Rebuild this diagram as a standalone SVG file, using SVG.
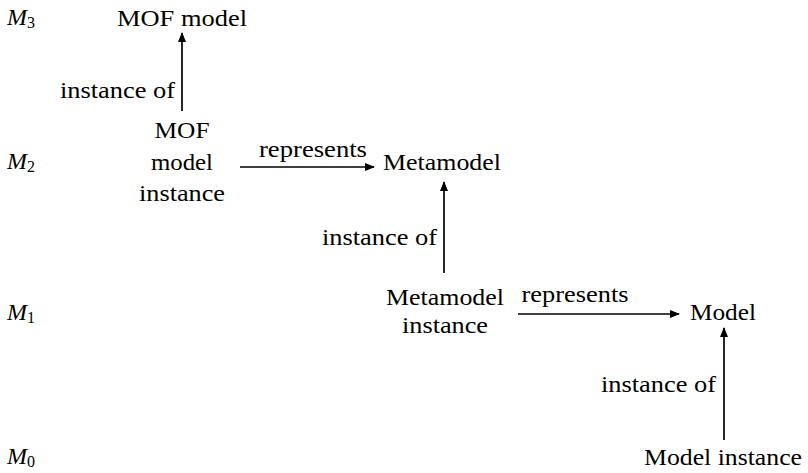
<svg xmlns="http://www.w3.org/2000/svg" width="808" height="473" viewBox="0 0 808 473">
  <style>
    text { font-family: "Liberation Serif", "DejaVu Serif", serif; font-size: 24px; fill: #000; }
    .lvl { font-style: italic; }
    .sub { font-style: normal; font-size: 16px; }
    .c { text-anchor: middle; }
    .r { text-anchor: end; }
    .edge { stroke: #000; stroke-width: 1.7; fill: none; marker-end: url(#arrow); }
  </style>
  <defs>
    <marker id="arrow" viewBox="0 0 10 8" refX="9" refY="4" markerWidth="10" markerHeight="8" markerUnits="userSpaceOnUse" orient="auto">
      <path d="M0,0 L10,4 L0,8 Z" fill="#000"/>
    </marker>
  </defs>
  <rect width="808" height="473" fill="#fff"/>

  <!-- metalevel labels -->
  <g id="levels">
    <text class="lvl" x="7" y="25">M<tspan class="sub" dy="3">3</tspan></text>
    <text class="lvl" x="7" y="169">M<tspan class="sub" dy="3">2</tspan></text>
    <text class="lvl" x="7" y="320">M<tspan class="sub" dy="3">1</tspan></text>
    <text class="lvl" x="7" y="464">M<tspan class="sub" dy="3">0</tspan></text>
  </g>

  <!-- nodes -->
  <g id="mof-model">
    <text class="c" x="182" y="26" textLength="130" lengthAdjust="spacingAndGlyphs">MOF model</text>
  </g>
  <g id="mof-model-instance">
    <text class="c" x="182" y="138" textLength="55" lengthAdjust="spacingAndGlyphs">MOF</text>
    <text class="c" x="182" y="170" textLength="62" lengthAdjust="spacingAndGlyphs">model</text>
    <text class="c" x="182" y="201" textLength="86" lengthAdjust="spacingAndGlyphs">instance</text>
  </g>
  <g id="metamodel">
    <text class="c" x="442" y="170" textLength="118" lengthAdjust="spacingAndGlyphs">Metamodel</text>
  </g>
  <g id="metamodel-instance">
    <text class="c" x="445" y="305" textLength="118" lengthAdjust="spacingAndGlyphs">Metamodel</text>
    <text class="c" x="445" y="333" textLength="86" lengthAdjust="spacingAndGlyphs">instance</text>
  </g>
  <g id="model">
    <text class="c" x="723" y="320" textLength="66" lengthAdjust="spacingAndGlyphs">Model</text>
  </g>
  <g id="model-instance">
    <text class="c" x="723" y="465" textLength="158" lengthAdjust="spacingAndGlyphs">Model instance</text>
  </g>

  <!-- connectors -->
  <g id="connectors">
    <line class="edge" x1="182" y1="111" x2="182" y2="33"/>
    <text class="r" x="175" y="98" textLength="115" lengthAdjust="spacingAndGlyphs">instance of</text>

    <line class="edge" x1="240" y1="167" x2="374" y2="167"/>
    <text class="c" x="313" y="157" textLength="108" lengthAdjust="spacingAndGlyphs">represents</text>

    <line class="edge" x1="444" y1="273" x2="444" y2="182"/>
    <text class="r" x="437" y="245" textLength="115" lengthAdjust="spacingAndGlyphs">instance of</text>

    <line class="edge" x1="518" y1="314" x2="679" y2="314"/>
    <text class="c" x="575" y="302" textLength="107" lengthAdjust="spacingAndGlyphs">represents</text>

    <line class="edge" x1="724" y1="440" x2="724" y2="328"/>
    <text class="r" x="716" y="392" textLength="115" lengthAdjust="spacingAndGlyphs">instance of</text>
  </g>
</svg>
